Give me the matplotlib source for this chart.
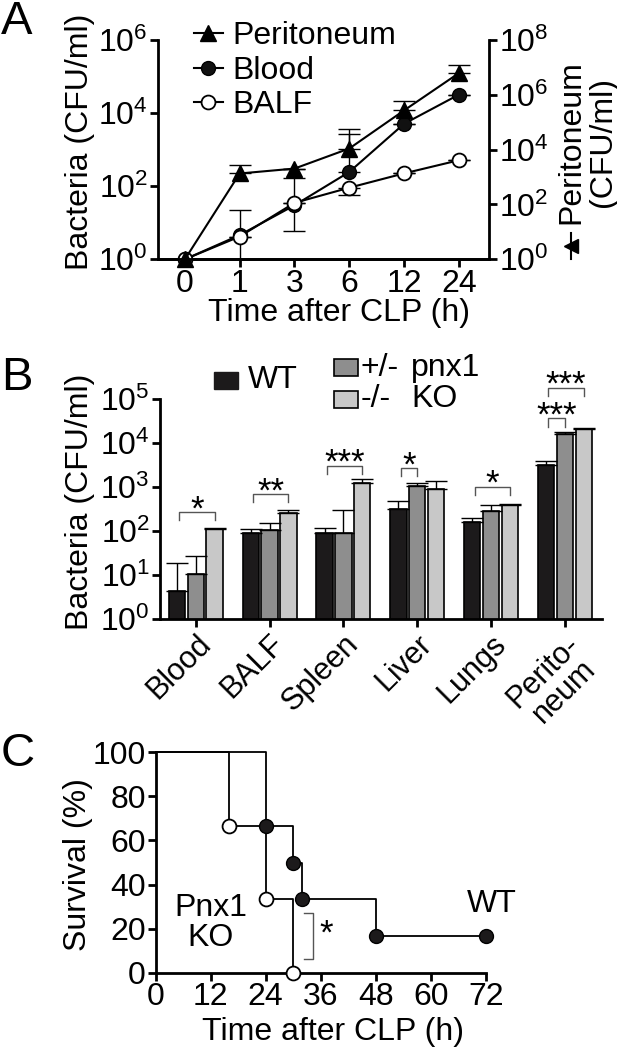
import numpy as np
import matplotlib
matplotlib.use('Agg')
import matplotlib.pyplot as plt
from matplotlib.lines import Line2D
from matplotlib.patches import Rectangle
from matplotlib.ticker import NullLocator

plt.rcParams['font.family'] = ['Liberation Sans', 'DejaVu Sans']
plt.rcParams['mathtext.fontset'] = 'custom'
plt.rcParams['mathtext.rm'] = 'Liberation Sans'
plt.rcParams['mathtext.it'] = 'Liberation Sans:italic'
plt.rcParams['mathtext.bf'] = 'Liberation Sans:bold'
plt.rcParams['font.size'] = 23
plt.rcParams['axes.linewidth'] = 2.0

# ---- panel A: bacteria over time (CFU/ml)
time_labels = ['0', '1', '3', '6', '12', '24']
peri_mean = [1, 1350, 2040, 11000, 2.7e5, 6.2e6]
peri_top = [1, 2820, 2040, 5.75e4, 6.2e5, 1.23e7]
blood_mean = [1, 4.6, 30, 245, 5100, 3.2e4]
blood_top = [1, 23, 170, 2750, 5100, 3.2e4]
blood_bot = [1, 0.5, 5.9, 245, 5100, 3.2e4]
balf_mean = [1, 4.2, 35, 91, 224, 513]
balf_bot = [1, 4.2, 35, 59, 224, 513]

# ---- panel B: bacteria per organ at genotype
organs = ['Blood', 'BALF', 'Spleen', 'Liver', 'Lungs', 'Perito-\nneum']
wt_mean = [4.4, 93, 93, 316, 158, 3160]
wt_top = [18.6, 115, 117, 479, 195, 3980]
het_mean = [10.7, 107, 93, 1070, 282, 15850]
het_top = [27.5, 151, 295, 1230, 389, 17800]
ko_mean = [110, 257, 1260, 912, 389, 20400]
ko_top = [117, 295, 1550, 1410, 417, 22400]
# significance brackets: organ, first bar, last bar, height, label
sig_organ = [0, 1, 2, 3, 4, 5, 5]
sig_from = [0, 0, 0, 0, 0, 0, 0]
sig_to = [2, 2, 2, 1, 2, 1, 2]
sig_y = [270, 690, 3090, 2690, 1000, 36300, 182000]
sig_text = ['*', '**', '***', '*', '*', '***', '***']

# ---- panel C: survival
wt_t = [0, 24, 30, 32, 48, 72]
wt_surv = [100, 66.7, 50, 33.3, 16.7, 16.7]
ko_t = [0, 16, 24, 30]
ko_surv = [100, 66.7, 33.3, 0]

W, H = 617, 1050


def fx(px):
    return px / W


def fy(py):
    return 1 - py / H


def px_rect(left, top, right, bottom):
    return [left / W, 1 - bottom / H, (right - left) / W, (bottom - top) / H]


def pow_label(e):
    return r'$\mathregular{10^{%d}}$' % e


def style_ax(ax):
    ax.tick_params(width=2, length=6, pad=1)
    for s in ['top', 'right']:
        ax.spines[s].set_visible(False)


fig = plt.figure(figsize=(W / 100, H / 100), dpi=100)

# ================= A =================
axA = fig.add_axes(px_rect(157.5, 40, 489, 259.3))
axA.set_yscale('log')
axA.set_ylim(1, 1e6)
axA.set_xlim(-0.5, 5.55)
style_ax(axA)
axA.set_yticks([10 ** e for e in range(0, 7, 2)])
axA.set_yticklabels([pow_label(e) for e in range(0, 7, 2)])
axA.yaxis.set_minor_locator(NullLocator())
xi = np.arange(len(time_labels))
axA.set_xticks(xi)
axA.set_xticklabels(time_labels)

axA2 = axA.twinx()
axA2.set_yscale('log')
axA2.set_ylim(1, 1e8)
axA2.spines['top'].set_visible(False)
axA2.spines['left'].set_visible(False)
axA2.tick_params(width=2, length=6, pad=1)
axA2.set_yticks([10 ** e for e in range(0, 9, 2)])
axA2.set_yticklabels([pow_label(e) for e in range(0, 9, 2)])
axA2.yaxis.set_minor_locator(NullLocator())

bm = np.array(blood_mean)
axA.errorbar(xi, bm, yerr=[bm - np.array(blood_bot), np.array(blood_top) - bm],
             fmt='none', ecolor='black', elinewidth=1, capsize=8, capthick=1)
am = np.array(balf_mean)
axA.errorbar(xi, am, yerr=[am - np.array(balf_bot), am * 0],
             fmt='none', ecolor='black', elinewidth=1, capsize=8, capthick=1)
pm = np.array(peri_mean)
axA2.errorbar(xi, pm, yerr=[pm * 0, np.array(peri_top) - pm],
              fmt='none', ecolor='black', elinewidth=1, capsize=8, capthick=1)

l_blood, = axA.plot(xi, blood_mean, '-o', color='black', lw=1.5, ms=10,
                    mfc='#111111', mec='black', clip_on=False, zorder=4)
l_balf, = axA.plot(xi, balf_mean, '-o', color='black', lw=1.5, ms=10,
                   mfc='white', mec='black', mew=1.3, clip_on=False, zorder=5)
l_peri, = axA2.plot(xi, peri_mean, '-^', color='black', lw=1.5, ms=11,
                    mfc='black', mec='black', clip_on=False, zorder=4)

axA.legend([l_peri, l_blood, l_balf], ['Peritoneum', 'Blood', 'BALF'],
           loc='center left', bbox_to_anchor=(0.11, 0.86), frameon=False,
           borderpad=0, borderaxespad=0, handlelength=0.9,
           handletextpad=0.3, labelspacing=0.15, numpoints=1)

fig.text(fx(80), fy(142), 'Bacteria (CFU/ml)', rotation=90, ha='center', va='center')
fig.text(fx(339), fy(313), 'Time after CLP (h)', ha='center', va='center')
fig.text(fx(587), fy(142), 'Peritoneum\n(CFU/ml)', rotation=90, ha='center',
         va='center', linespacing=1.05)
fig.add_artist(Line2D([fx(571), fx(571)], [fy(233), fy(259)],
                      transform=fig.transFigure, color='black', lw=1.5))
fig.add_artist(Line2D([fx(571)], [fy(246)], transform=fig.transFigure,
                      marker='<', ms=10, color='black', lw=0))

# ================= B =================
axB = fig.add_axes(px_rect(159.5, 399, 602, 619.3))
axB.set_yscale('log')
axB.set_ylim(1, 1e5)
axB.set_xlim(-0.49, 5.5)
style_ax(axB)
axB.set_yticks([10 ** e for e in range(0, 6)])
axB.set_yticklabels([pow_label(e) for e in range(0, 6)])
axB.yaxis.set_minor_locator(NullLocator())
gi = np.arange(len(organs))
axB.set_xticks(gi)
axB.set_xticklabels(organs, rotation=45, ha='right', rotation_mode='anchor',
                    fontsize=22, multialignment='center', linespacing=0.95)

bar_w = 0.22
offs = [-0.255, 0, 0.255]
colors = ['#1c1a1b', '#8e8e8e', '#c8c8c8']
means = [wt_mean, het_mean, ko_mean]
tops = [wt_top, het_top, ko_top]
for k in range(3):
    m = np.array(means[k])
    t = np.array(tops[k])
    axB.bar(gi + offs[k], m, width=bar_w, color=colors[k], edgecolor='black',
            linewidth=1.2, zorder=2)
    axB.errorbar(gi + offs[k], m, yerr=[m * 0, t - m], fmt='none', ecolor='black',
                 elinewidth=1, capsize=8, capthick=1, zorder=3)

for o, a, b, y, s in zip(sig_organ, sig_from, sig_to, sig_y, sig_text):
    x0 = o + offs[a] + 0.03
    x1 = o + offs[b]
    axB.plot([x0, x0, x1, x1], [y * 0.65, y, y, y * 0.65], color='#555555',
             lw=1, clip_on=False)
    axB.annotate(s, ((x0 + x1) / 2, y), xytext=(0, -5), textcoords='offset points',
                 ha='center', va='baseline', fontsize=25, annotation_clip=False)

fig.text(fx(80), fy(502), 'Bacteria (CFU/ml)', rotation=90, ha='center', va='center')

# legend of panel B
fig.add_artist(Rectangle((fx(214), fy(389)), fx(24), 17 / H, transform=fig.transFigure,
                         facecolor=colors[0], edgecolor=colors[0], lw=1))
fig.text(fx(248), fy(380), 'WT', ha='left', va='center')
fig.add_artist(Rectangle((fx(334), fy(376)), fx(24), 17 / H, transform=fig.transFigure,
                         facecolor=colors[1], edgecolor='black', lw=1.2))
fig.add_artist(Rectangle((fx(334), fy(408)), fx(24), 17 / H, transform=fig.transFigure,
                         facecolor=colors[2], edgecolor='black', lw=1.2))
fig.text(fx(361), fy(368), '+/-', ha='left', va='center')
fig.text(fx(411), fy(368), 'pnx1', ha='left', va='center')
fig.text(fx(361), fy(399), '-/-', ha='left', va='center')
fig.text(fx(411), fy(399), 'KO', ha='left', va='center')

# ================= C =================
axC = fig.add_axes(px_rect(155.5, 752.3, 486, 972.7))
axC.set_xlim(0, 72)
axC.set_ylim(0, 100)
style_ax(axC)
axC.set_xticks(range(0, 73, 12))
axC.set_yticks(range(0, 101, 20))

axC.step(wt_t, wt_surv, where='post', color='black', lw=1.3, clip_on=False, zorder=3)
axC.step(ko_t, ko_surv, where='post', color='black', lw=1.3, clip_on=False, zorder=3)
axC.plot(wt_t[1:], wt_surv[1:], 'o', ms=10, mfc='#1c1a1b', mec='black',
         clip_on=False, zorder=4)
axC.plot(ko_t[1:], ko_surv[1:], 'o', ms=10, mfc='white', mec='black', mew=1.3,
         clip_on=False, zorder=5)

axC.plot([32.4, 34.3, 34.3, 32.4], [26.9, 26.9, 6.1, 6.1], color='#555555', lw=1)
axC.annotate('*', (37.1, 16.5), xytext=(0, -5), textcoords='offset points',
             ha='center', va='baseline', fontsize=25)
axC.text(12, 22.5, 'Pnx1\nKO', ha='center', va='center', linespacing=1.0)
axC.text(73.3, 31.2, 'WT', ha='center', va='center')

fig.text(fx(78), fy(865), 'Survival (%)', rotation=90, ha='center', va='center')
fig.text(fx(333), fy(1032), 'Time after CLP (h)', ha='center', va='center')

# panel letters
fig.text(fx(1), fy(0), 'A', ha='left', va='top', fontsize=34)
fig.text(fx(1), fy(378), 'B', ha='left', va='center', fontsize=34)
fig.text(fx(1), fy(754), 'C', ha='left', va='center', fontsize=34)

fig.savefig('out.png', dpi=100)
